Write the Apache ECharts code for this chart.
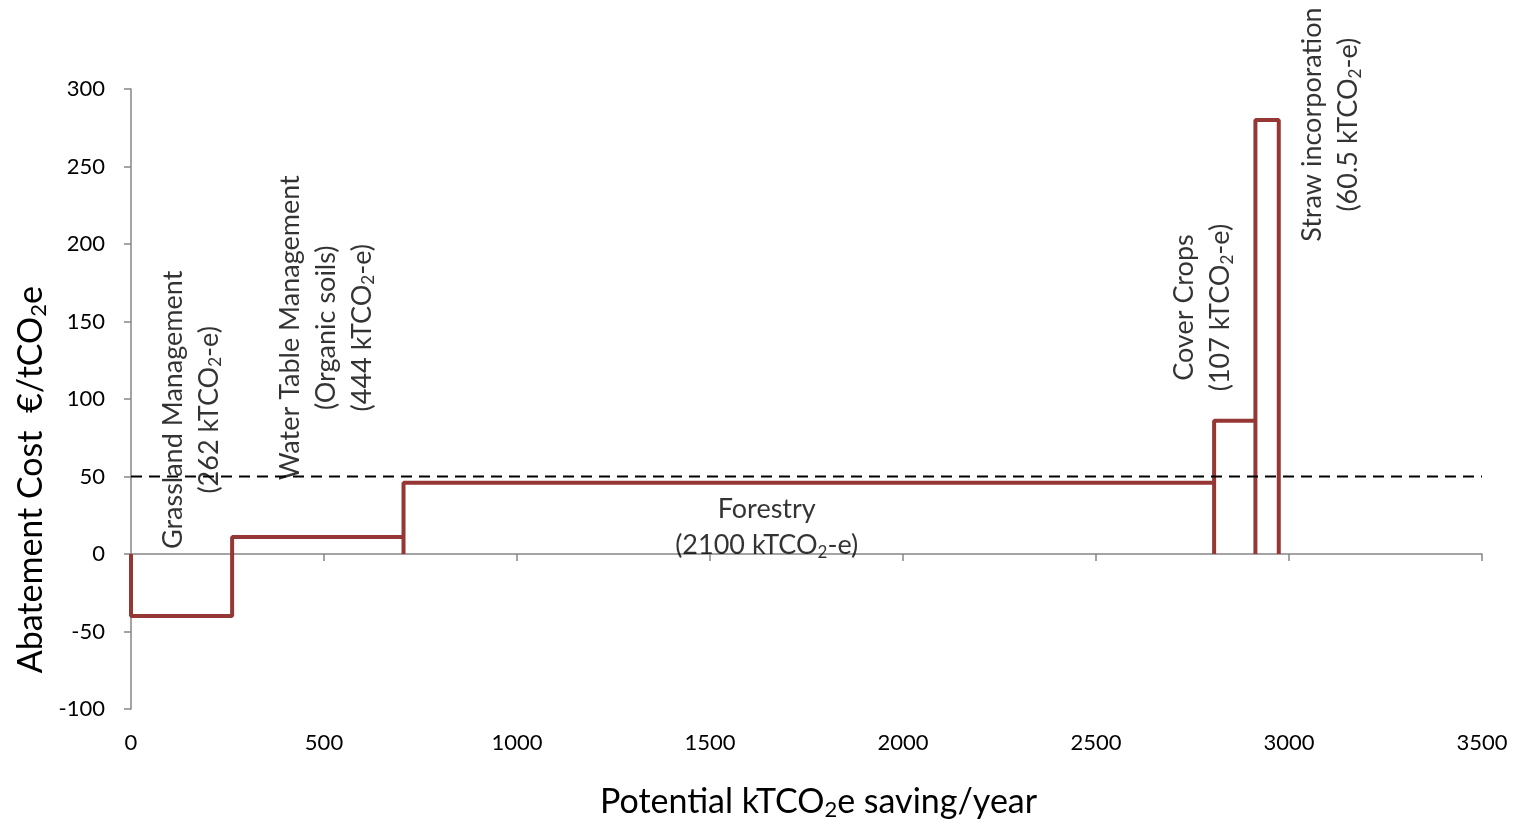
<!DOCTYPE html>
<html>
<head>
<meta charset="utf-8">
<script src="https://cdn.jsdelivr.net/npm/echarts@6/dist/echarts.min.js"></script>
<style>
html,body{margin:0;padding:0;background:#fff;}
#chart{width:1521px;height:824px;}
</style>
</head>
<body>
<div id="chart"></div>
<script>
// ---- data ----
var measures = ['Grassland Management', 'Water Table Management', 'Forestry', 'Cover Crops', 'Straw incorporation'];
var savings = [262, 444, 2100, 107, 60.5];          // kTCO2-e per year (block widths)
var costs = [-40, 11, 46, 86, 280];                  // €/tCO2e (block heights)
var threshold = 50;                                  // dashed reference line
var thresholdX = [0, 3500];
var xTicks = [0, 500, 1000, 1500, 2000, 2500, 3000, 3500];
var yTicks = [-100, -50, 0, 50, 100, 150, 200, 250, 300];
// annotation anchors (data coords) and texts
var labelX = [155, 505, 1647, 2776, 3108];
var labelY = [93, 146, 17, 159, 277];
var labelText = [
  '{t|Grassland Management}\n{t|(262 kTCO}{s|2}{t|-e)}',
  '{t|Water Table Management}\n{t|(Organic soils)}\n{t|(444 kTCO}{s|2}{t|-e)}',
  '{t|Forestry}\n{t|(2100 kTCO}{s|2}{t|-e)}',
  '{t|Cover Crops}\n{t|(107 kTCO}{s|2}{t|-e)}',
  '{t|Straw incorporation}\n{t|(60.5 kTCO}{s|2}{t|-e)}'
];
var labelRotate = [90, 90, 0, 90, 90];

// ---- build step outline ----
var pts = [];
var cum = 0;
for (var i = 0; i < savings.length; i++) {
  var x0 = cum, x1 = cum + savings[i];
  pts.push([x0, 0], [x0, costs[i]], [x1, costs[i]], [x1, 0]);
  cum = x1;
}
var labelData = [];
for (var j = 0; j < labelX.length; j++) {
  labelData.push({
    value: [labelX[j], labelY[j]],
    label: { formatter: labelText[j], rotate: labelRotate[j] }
  });
}

var FONT = 'Lato';
var rich = {
  t: { fontFamily: FONT, fontSize: 27, color: '#000', lineHeight: 36 },
  s: { fontFamily: FONT, fontSize: 17, color: '#000', padding: [14, 0, 0, 0], lineHeight: 36 }
};
var plain = function (v) { return String(v); };
var chart = echarts.init(document.getElementById('chart'));
chart.setOption({
  animation: false,
  backgroundColor: '#fff',
  grid: { left: 131, right: 39, top: 89, bottom: 115, containLabel: false, outerBoundsMode: 'none' },
  xAxis: [{
    type: 'value', min: xTicks[0], max: xTicks[xTicks.length - 1], interval: 500,
    axisLine: { onZero: true, lineStyle: { color: '#868686', width: 1.5 } },
    axisTick: { show: true, length: 7, lineStyle: { color: '#868686', width: 1.5 } },
    axisLabel: { show: false },
    splitLine: { show: false }
  }, {
    type: 'value', min: xTicks[0], max: xTicks[xTicks.length - 1], interval: 500, position: 'bottom',
    axisLine: { show: false, onZero: false },
    axisTick: { show: false },
    axisLabel: { show: true, margin: 23, fontFamily: FONT, fontSize: 22, color: '#000', formatter: plain },
    splitLine: { show: false },
    name: '{t|Potential kTCO}{s|2}{t|e saving/year}',
    nameLocation: 'middle', nameGap: 74,
    nameTextStyle: { padding: [0, 0, 0, 24], rich: {
      t: { fontFamily: FONT, fontSize: 34, color: '#000' },
      s: { fontFamily: FONT, fontSize: 22, color: '#000', padding: [16, 0, 0, 0] }
    } }
  }],
  yAxis: {
    type: 'value', min: yTicks[0], max: yTicks[yTicks.length - 1], interval: 50,
    axisLine: { show: true, onZero: false, lineStyle: { color: '#868686', width: 1.5 } },
    axisTick: { show: true, length: 7, lineStyle: { color: '#868686', width: 1.5 } },
    axisLabel: { margin: 26, fontFamily: FONT, fontSize: 22, color: '#000', formatter: plain },
    splitLine: { show: false }
  },
  graphic: [{
    type: 'text', left: 14, top: 286, rotation: Math.PI / 2,
    style: {
      rich: {
        t: { fontFamily: FONT, fontSize: 34, fill: '#000' },
        s: { fontFamily: FONT, fontSize: 22, fill: '#000', padding: [16, 0, 0, 0] }
      },
      text: '{t|Abatement Cost  €/tCO}{s|2}{t|e}'
    }
  }],
  series: [{
    type: 'line', data: pts, xAxisIndex: 0, symbol: 'none',
    lineStyle: { color: '#953735', width: 4 }, z: 3
  }, {
    type: 'line', xAxisIndex: 0, symbol: 'none',
    data: [[thresholdX[0], threshold], [thresholdX[1], threshold]],
    lineStyle: { color: '#000', width: 2, type: [11, 7] }, z: 4
  }, {
    type: 'scatter', xAxisIndex: 0, symbolSize: 0, data: labelData, z: 5,
    label: { show: true, position: 'inside', align: 'center', verticalAlign: 'middle', rich: rich }
  }]
});
</script>
</body>
</html>
